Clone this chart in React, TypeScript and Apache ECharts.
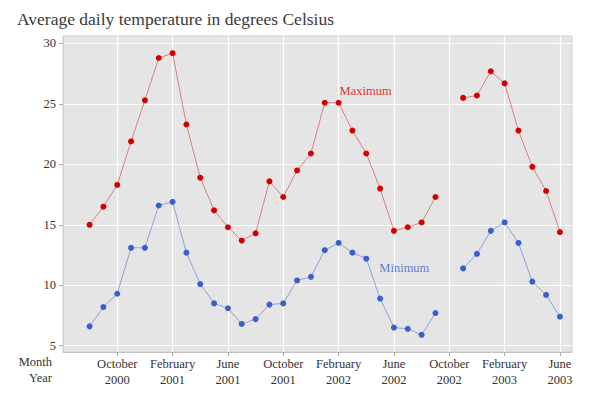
import React, { useEffect, useRef } from "react";
import * as echarts from "echarts";

const months = [
  "2000-08", "2000-09", "2000-10", "2000-11", "2000-12",
  "2001-01", "2001-02", "2001-03", "2001-04", "2001-05", "2001-06", "2001-07",
  "2001-08", "2001-09", "2001-10", "2001-11", "2001-12",
  "2002-01", "2002-02", "2002-03", "2002-04", "2002-05", "2002-06", "2002-07",
  "2002-08", "2002-09", "2002-10", "2002-11", "2002-12",
  "2003-01", "2003-02", "2003-03", "2003-04", "2003-05", "2003-06",
];

const maxTemp: (number | null)[] = [
  15.0, 16.5, 18.3, 21.9, 25.3,
  28.8, 29.2, 23.3, 18.9, 16.2, 14.8, 13.7,
  14.3, 18.6, 17.3, 19.5, 20.9,
  25.1, 25.1, 22.8, 20.9, 18.0, 14.5, 14.8,
  15.2, 17.3, null, 25.5, 25.7,
  27.7, 26.7, 22.8, 19.8, 17.8, 14.4,
];

const minTemp: (number | null)[] = [
  6.6, 8.2, 9.3, 13.1, 13.1,
  16.6, 16.9, 12.7, 10.1, 8.5, 8.1, 6.8,
  7.2, 8.4, 8.5, 10.4, 10.7,
  12.9, 13.5, 12.7, 12.2, 8.9, 6.5, 6.4,
  5.9, 7.7, null, 11.4, 12.6,
  14.5, 15.2, 13.5, 10.3, 9.2, 7.4,
];

const tickMonths = [
  "2000-10", "2001-02", "2001-06", "2001-10", "2002-02",
  "2002-06", "2002-10", "2003-02", "2003-06",
];
const monthNames = ["January", "February", "March", "April", "May", "June",
  "July", "August", "September", "October", "November", "December"];

const yTicks = [5, 10, 15, 20, 25, 30];

// month offset from October 2000
const monthX = (m: string) => {
  const [y, mo] = m.split("-").map(Number);
  return (y - 2000) * 12 + (mo - 10);
};

const FONT = "'Liberation Serif', 'DejaVu Serif', serif";
const RED_PT = "#d40000";
const RED_LN = "rgba(212,0,0,0.45)";
const BLUE_PT = "#3a5fcd";
const BLUE_LN = "rgba(58,95,205,0.5)";

export default function App() {
  const ref = useRef<HTMLDivElement>(null);
  useEffect(() => {
    if (!ref.current) return;
    const chart = echarts.init(ref.current, undefined, { renderer: "svg" });
    const tickVals = tickMonths.map(monthX);
    chart.setOption({
      animation: false,
      title: {
        text: "Average daily temperature in degrees Celsius",
        left: 12,
        top: 5,
        textStyle: { fontFamily: FONT, fontSize: 17.5, fontWeight: "normal", color: "#3a3a3a" },
      },
      grid: {
        left: 63, top: 36, right: 28, bottom: 48,
        show: true, backgroundColor: "#e5e5e5", borderColor: "#cfcfcf", borderWidth: 1,
      },
      xAxis: {
        type: "value",
        min: -3.92,
        max: 32.87,
        axisLine: { show: true, onZero: false, lineStyle: { color: "#c4c4c4", width: 1 } },
        axisTick: { show: true, length: 4, lineStyle: { color: "#aaaaaa" }, customValues: tickVals },
        splitLine: { show: true, lineStyle: { color: "#ffffff", width: 1.2 } },
        axisLabel: {
          customValues: tickVals,
          margin: 4,
          fontFamily: FONT,
          fontSize: 12.5,
          color: "#333333",
          lineHeight: 16,
          formatter: (v: number) => {
            const idx = tickVals.findIndex((t) => Math.abs(t - v) < 1e-6);
            if (idx < 0) return "";
            const [y, mo] = tickMonths[idx].split("-").map(Number);
            return monthNames[mo - 1] + "\n" + y;
          },
        },
      },
      yAxis: {
        type: "value",
        min: 4.48,
        max: 30.62,
        axisLine: { show: true, onZero: false, lineStyle: { color: "#cfcfcf", width: 1 } },
        axisTick: { show: true, length: 4, lineStyle: { color: "#aaaaaa" }, customValues: yTicks },
        splitLine: { show: true, lineStyle: { color: "#ffffff", width: 1.2 } },
        axisLabel: {
          customValues: yTicks,
          margin: 7,
          fontFamily: FONT,
          fontSize: 12.5,
          color: "#333333",
        },
      },
      graphic: [
        {
          type: "text", right: 600 - 52, top: 355,
          style: { text: "Month", fontFamily: FONT, fontSize: 12.5, fill: "#333333", textAlign: "right" },
        },
        {
          type: "text", right: 600 - 52, top: 371,
          style: { text: "Year", fontFamily: FONT, fontSize: 12.5, fill: "#333333", textAlign: "right" },
        },
      ],
      series: [
        {
          name: "Maximum",
          type: "line",
          data: months.map((m, i) => [monthX(m), maxTemp[i]]),
          connectNulls: false,
          symbol: "circle",
          symbolSize: 6,
          showAllSymbol: true,
          lineStyle: { color: RED_LN, width: 1 },
          itemStyle: { color: RED_PT },
        },
        {
          name: "Minimum",
          type: "line",
          data: months.map((m, i) => [monthX(m), minTemp[i]]),
          connectNulls: false,
          symbol: "circle",
          symbolSize: 6,
          showAllSymbol: true,
          lineStyle: { color: BLUE_LN, width: 1 },
          itemStyle: { color: BLUE_PT },
        },
        {
          type: "scatter",
          silent: true,
          symbolSize: 1,
          itemStyle: { color: "rgba(0,0,0,0)" },
          data: [
            { value: [17.95, 26.07], name: "Maximum", label: { color: RED_PT } },
            { value: [20.75, 11.46], name: "Minimum", label: { color: BLUE_PT } },
          ],
          label: {
            show: true,
            position: "inside",
            formatter: "{b}",
            fontFamily: FONT,
            fontSize: 12.5,
          },
        },
      ],
    });
    return () => chart.dispose();
  }, []);
  return <div ref={ref} style={{ width: 600, height: 400, position: "absolute", left: 0, top: 0 }} />;
}
